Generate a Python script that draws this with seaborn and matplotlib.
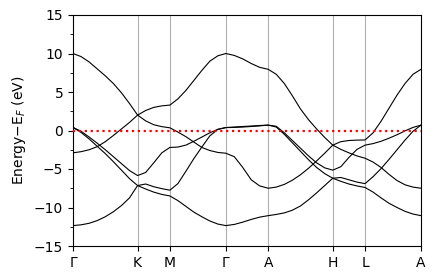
import numpy as np
import pandas as pd
import matplotlib
matplotlib.use("Agg")
import matplotlib.pyplot as plt
from matplotlib.ticker import MultipleLocator
import seaborn as sns

# High-symmetry path
kpoint_labels = ["Γ", "K", "M", "Γ", "A", "H", "L", "A"]
segment_lengths = [1.0, 0.5, 0.866, 0.656, 1.0, 0.5, 0.866]
segment_samples = [8, 4, 7, 5, 8, 4, 7]   # intervals per segment

# Band energies (eV, relative to E_F), read along the path
band_1 = [10.0, 9.6, 8.9, 8.0, 7.1, 6.1, 4.9, 3.5, 2.0,
          1.25, 0.75, 0.5, 0.35,
          -0.2, -0.8, -1.5, -2.2, -2.6, -2.85, -2.95,
          -3.4, -4.8, -6.4, -7.2, -7.5,
          -7.35, -7.0, -6.45, -5.75, -4.9, -3.95, -2.95, -1.9,
          -1.45, -1.3, -1.25, -1.23,
          -0.3, 1.2, 2.9, 4.6, 6.1, 7.3, 7.95]
band_2 = [-2.9, -2.75, -2.5, -2.1, -1.45, -0.65, 0.2, 1.05, 2.0,
          2.6, 3.0, 3.2, 3.3,
          4.1, 5.2, 6.5, 7.8, 9.0, 9.7, 10.0,
          9.75, 9.3, 8.7, 8.2, 7.95,
          7.3, 6.1, 4.5, 2.8, 1.4, 0.2, -0.9, -1.9,
          -2.45, -2.9, -3.3, -3.6,
          -4.1, -4.8, -5.7, -6.5, -7.05, -7.35, -7.5]
band_3 = [0.4, -0.1, -0.85, -1.65, -2.5, -3.4, -4.3, -5.2, -5.85,
          -5.45, -4.2, -2.9, -2.2,
          -2.15, -1.9, -1.4, -0.85, -0.3, 0.15, 0.38,
          0.45, 0.52, 0.58, 0.65, 0.7,
          0.55, -0.3, -1.3, -2.3, -3.3, -4.2, -4.85, -5.15,
          -4.7, -3.5, -2.45, -1.9,
          -1.7, -1.4, -1.0, -0.55, -0.05, 0.4, 0.7]
band_4 = [0.4, -0.25, -1.1, -2.05, -3.0, -4.05, -5.15, -6.25, -7.15,
          -6.95, -7.3, -7.55, -7.75,
          -6.9, -5.3, -3.65, -2.15, -0.7, 0.15, 0.38,
          0.4, 0.45, 0.52, 0.6, 0.7,
          0.45, -0.5, -1.6, -2.7, -3.8, -4.8, -5.6, -6.2,
          -6.1, -6.4, -6.7, -6.9,
          -6.0, -4.95, -3.75, -2.5, -1.25, -0.1, 0.7]
band_5 = [-12.35, -12.25, -12.05, -11.7, -11.2, -10.55, -9.75, -8.75, -7.15,
          -7.6, -8.0, -8.3, -8.5,
          -9.1, -9.85, -10.6, -11.2, -11.75, -12.15, -12.35,
          -12.2, -11.9, -11.55, -11.25, -11.06,
          -10.9, -10.7, -10.35, -9.8, -9.0, -8.1, -7.15, -6.2,
          -6.6, -6.95, -7.2, -7.4,
          -8.0, -8.75, -9.45, -10.0, -10.5, -10.85, -11.06]
bands = [band_1, band_2, band_3, band_4, band_5]

# k-distance grid along the path
kpos = np.concatenate([[0.0], np.cumsum(segment_lengths)])
k = [0.0]
for i, n in enumerate(segment_samples):
    k.extend(np.linspace(kpos[i], kpos[i + 1], n + 1)[1:])
k = np.array(k)

df = pd.concat([pd.DataFrame({"k": k, "E": b, "band": i}) for i, b in enumerate(bands)],
               ignore_index=True)

fig = plt.figure(figsize=(4.36, 2.8), dpi=100)
ax = fig.add_axes([73 / 436, 1 - 246 / 280, (421 - 73) / 436, (246 - 15) / 280])

for x in kpos[1:-1]:
    ax.axvline(x, color="#b0b0b0", lw=0.8, zorder=0)

sns.lineplot(data=df, x="k", y="E", units="band", estimator=None, sort=False,
             color="black", lw=0.8, ax=ax, legend=False)
ax.axhline(0, color="red", ls=":", lw=1.6, zorder=3)

ax.set_xlim(kpos[0], kpos[-1])
ax.set_ylim(-15, 15)
ax.set_xticks(kpos)
ax.set_xticklabels(kpoint_labels, fontsize=10)
ax.yaxis.set_major_locator(MultipleLocator(5))
ax.yaxis.set_minor_locator(MultipleLocator(2.5))
ax.tick_params(labelsize=10)
ax.set_xlabel("")
ax.set_ylabel("Energy$-$E$_F$ (eV)", fontsize=10)

fig.savefig("out.png", dpi=100)
